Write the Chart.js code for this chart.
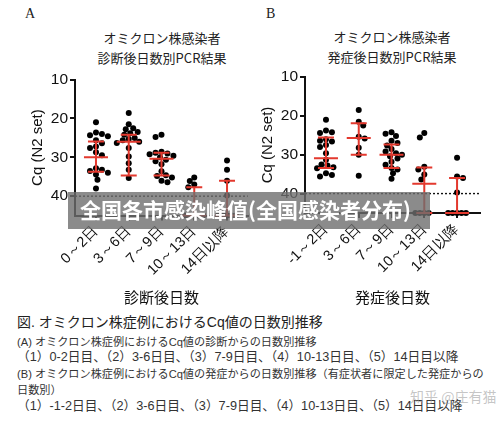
<!DOCTYPE html>
<html>
<head>
<meta charset="utf-8">
<script src="https://cdn.jsdelivr.net/npm/chart.js@4.4.0/dist/chart.umd.min.js"></script>
<style>
  body { margin: 0; background: #fff; }
  #page { position: relative; width: 500px; height: 421px; overflow: hidden;
          font-family: "Liberation Sans", "Noto Sans CJK JP", sans-serif; color: #222; }
  .abs { position: absolute; white-space: nowrap; }
  .ttl { width: 220px; text-align: center; font-size: 13px; line-height: 20px;
         font-family: "Noto Sans CJK JP", sans-serif; color: #222; }
  .letter { font-family: "Liberation Serif", serif; font-size: 14px; line-height: 14px; color: #222; }
  .cap { left: 17px; font-size: 11.15px; line-height: 16px; color: #333; }
  .cap.wide { font-size: 12.7px; }
  #chartA { left: 0; top: 60px; }
  #chartB { left: 250px; top: 60px; }
  #banner { left: 68px; top: 192px; width: 362px; height: 37px; background: rgba(110,110,110,0.8); }
  #bannerText { left: 80px; top: 192px; line-height: 35px; font-size: 21px; font-weight: bold;
                color: #fff; font-family: "Noto Sans CJK SC", sans-serif; }
  #mark { left: 410px; top: 386px; font-size: 14px; line-height: 20px; color: rgba(160,160,160,0.6);
          font-family: "Noto Sans CJK SC", sans-serif; }
</style>
</head>
<body>
<div id="page">
  <div class="abs letter" style="left:25px;top:7px;">A</div>
  <div class="abs letter" style="left:266px;top:7px;">B</div>
  <div class="abs ttl" style="left:52px;top:28px;">オミクロン株感染者</div>
  <div class="abs ttl" style="left:52px;top:48px;">診断後日数別PCR結果</div>
  <div class="abs ttl" style="left:282px;top:27px;">オミクロン株感染者</div>
  <div class="abs ttl" style="left:282px;top:47px;">発症後日数別PCR結果</div>

  <canvas id="chartA" class="abs" width="265" height="250"></canvas>
  <canvas id="chartB" class="abs" width="250" height="250"></canvas>

  <div id="banner" class="abs"></div>
  <div id="bannerText" class="abs">全国各市感染峰值(全国感染者分布)</div>

  <div class="abs" style="left:17px;top:312px;font-size:14px;line-height:20px;color:#222;">図. オミクロン株症例におけるCq値の日数別推移</div>
  <div class="abs cap" style="top:334px;">(A) オミクロン株症例におけるCq値の診断からの日数別推移</div>
  <div class="abs cap wide" style="top:349px;">（1）0-2日目、（2）3-6日目、（3）7-9日目、（4）10-13日目、（5）14日目以降</div>
  <div class="abs cap" style="top:366px;">(B) オミクロン株症例におけるCq値の発症からの日数別推移（有症状者に限定した発症からの</div>
  <div class="abs cap" style="top:382px;">日数別）</div>
  <div class="abs cap wide" style="top:398px;">（1）-1-2日目、（2）3-6日目、（3）7-9日目、（4）10-13日目、（5）14日目以降</div>
  <div id="mark" class="abs">知乎 @庄有猫</div>
</div>

<script>
// ============================== DATA

const labelsDiag = ['0～2日', '3～6日', '7～9日', '10～13日', '14日以降'];
const labelsOnset = ['-1～2日', '3～6日', '7～9日', '10～13日', '14日以降'];
const yTicks = [10, 20, 30, 40];
const cutoff = 40;

// A: Cq by days after diagnosis (45 = not detected, on the axis)
const cqDiag0to2 = [21, 23.6, 24, 24.3, 24.6, 25.6, 26.4, 27.2, 27.6, 28.7, 29.5, 32.8, 33.2, 33.5, 34, 34.4, 35.8, 38];
const cqDiag3to6 = [18.6, 21.5, 22.5, 22.8, 23.5, 23.8, 24.2, 25, 25.3, 25.6, 26, 26.3, 27.6, 29.8, 31.5, 33.2, 35.3];
const cqDiag7to9 = [24.2, 24.8, 28.6, 28.8, 29, 29.2, 29.6, 30, 30.6, 31, 31.8, 33.6, 34.6, 34.8, 35.2, 36, 36.4];
const cqDiag10to13 = [35.2, 36.1, 37, 37.7, 45, 45, 45, 45, 45];
const cqDiag14up = [30.8, 33.2, 36, 39.8, 45, 45, 45, 45, 45];

const medianDiag = [30, 26, 30.4, 45, 45];
const iqrTopDiag = [25.9, 24.2, 28.8, 37.7, 36];
const iqrBottomDiag = [33.7, 34.7, 34.7, 45, 45];

// B: Cq by days after onset
const cqOnsetM1to2 = [21, 23.8, 24.2, 24.4, 26, 26.4, 26.6, 27.5, 28, 29.6, 31.3, 32.5, 32.8, 33.2, 33.5, 34.8, 35.2, 35.6];
const cqOnset3to6 = [18.5, 21.5, 22.5, 25.4, 25.8, 28.2, 30, 35.4];
const cqOnset7to9 = [24.2, 24.6, 25.2, 26.4, 27, 27.6, 28.5, 29.2, 29.6, 30, 30.4, 31, 31.8, 32.6, 33.4, 33.8, 34.8, 36.2];
const cqOnset10to13 = [24.4, 25.6, 33.1, 33.8, 35.1, 36.4, 45, 45, 45, 45];
const cqOnset14up = [30.8, 35.6, 36, 39.7, 45, 45, 45, 45, 45];

const medianOnset = [30.9, 25.7, 30, 37.5, 45];
const iqrTopOnset = [25.6, 21.9, 27.4, 33.3, 36];
const iqrBottomOnset = [33.4, 30, 33.4, 45, 45];

// ============================== UTILS

const RED = '#e3392e';
const PX_PER_CAT = 33;
const PX_PER_CQ = 3.87;

// beeswarm: spread each group sideways so dots do not sit on each other
function swarm(values, cat) {
  const placed = [];
  return [...values].sort((a, b) => a - b).map((v, i) => {
    let off = 0;
    const sign = i % 2 ? -1 : 1;
    const gap = v >= 45 ? 4.2 : 5.6;
    for (let k = 0; k < 40; k++) {
      const cand = k === 0 ? 0 : sign * (k % 2 ? 1 : -1) * Math.ceil(k / 2) * 1.5;
      const free = placed.every(p => Math.hypot(p.dx - cand, (p.v - v) * PX_PER_CQ) >= gap);
      if (free) { off = cand; break; }
    }
    placed.push({ dx: off, v });
    return { x: cat + off / PX_PER_CAT, y: v };
  });
}

const errorBars = {
  id: 'errorBars',
  beforeDatasetsDraw(chart) {
    const { ctx, chartArea: { left, right }, scales: { y } } = chart;
    ctx.save();
    ctx.strokeStyle = '#111';
    ctx.lineWidth = 1.4;
    ctx.setLineDash([2, 2]);
    ctx.beginPath();
    ctx.moveTo(left, y.getPixelForValue(cutoff));
    ctx.lineTo(right, y.getPixelForValue(cutoff));
    ctx.stroke();
    ctx.restore();
  },
  afterDatasetsDraw(chart, args, opts) {
    const { ctx, scales: { x, y } } = chart;
    ctx.save();
    ctx.strokeStyle = RED;
    ctx.lineWidth = 2;
    opts.median.forEach((m, i) => {
      const cx = x.getPixelForValue(i + 1);
      const yt = y.getPixelForValue(opts.top[i]);
      const yb = y.getPixelForValue(opts.bottom[i]);
      const ym = y.getPixelForValue(m);
      ctx.beginPath();
      ctx.moveTo(cx, yt); ctx.lineTo(cx, yb);
      ctx.moveTo(cx - 8, yt); ctx.lineTo(cx + 8, yt);
      ctx.moveTo(cx - 8, yb); ctx.lineTo(cx + 8, yb);
      ctx.moveTo(cx - 12, ym); ctx.lineTo(cx + 12, ym);
      ctx.stroke();
    });
    ctx.restore();
  }
};

function makeConfig(groups, labels, median, top, bottom, xMax, padding, xTitle) {
  const points = groups.flatMap((g, i) => swarm(g, i + 1));
  const axisGrid = { drawOnChartArea: false, drawTicks: true, tickLength: 5, color: '#111', lineWidth: 2 };
  return {
    type: 'scatter',
    data: {
      datasets: [{
        data: points,
        backgroundColor: '#000',
        borderWidth: 0,
        pointRadius: 3,
        clip: false,
      }]
    },
    options: {
      responsive: false,
      animation: false,
      events: [],
      layout: { padding },
      plugins: {
        legend: { display: false },
        tooltip: { enabled: false },
        errorBars: { median, top, bottom },
      },
      scales: {
        x: {
          type: 'linear',
          min: 0.36,
          max: xMax,
          grid: axisGrid,
          border: { display: true, color: '#111', width: 2 },
          afterBuildTicks: (s) => { s.ticks = labels.map((_, i) => ({ value: i + 1 })); },
          afterFit: (s) => { s.height = 250 - padding.top - 136; },
          ticks: {
            minRotation: 45,
            maxRotation: 45,
            autoSkip: false,
            padding: 2,
            color: '#111',
            font: { size: 14.5 },
            callback: (v) => labels[v - 1],
          },
          title: { display: true, text: xTitle, color: '#111', padding: 4,
                   font: { size: 15, family: '"Noto Sans CJK JP", sans-serif' } },
        },
        y: {
          type: 'linear',
          reverse: true,
          min: 10,
          max: 45,
          grid: axisGrid,
          border: { display: true, color: '#111', width: 2 },
          afterBuildTicks: (s) => { s.ticks = yTicks.map(v => ({ value: v })); },
          afterFit: (s) => { s.width = 50; },
          ticks: { padding: 2, color: '#111', font: { size: 15.5 } },
          title: { display: true, text: 'Cq (N2 set)', color: '#111', padding: 4, font: { size: 15 } },
        }
      }
    },
    plugins: [errorBars],
  };
}

// ============================== INITIALIZATION

new Chart(document.getElementById('chartA'), makeConfig(
  [cqDiag0to2, cqDiag3to6, cqDiag7to9, cqDiag10to13, cqDiag14up],
  labelsDiag, medianDiag, iqrTopDiag, iqrBottomDiag, 5.64,
  { left: 25, top: 19.6, right: 17, bottom: 0 }, '診断後日数'
));

new Chart(document.getElementById('chartB'), makeConfig(
  [cqOnsetM1to2, cqOnset3to6, cqOnset7to9, cqOnset10to13, cqOnset14up],
  labelsOnset, medianOnset, iqrTopOnset, iqrBottomOnset, 5.7,
  { left: 5, top: 17, right: 20, bottom: 0 }, '発症後日数'
));
</script>
</body>
</html>
